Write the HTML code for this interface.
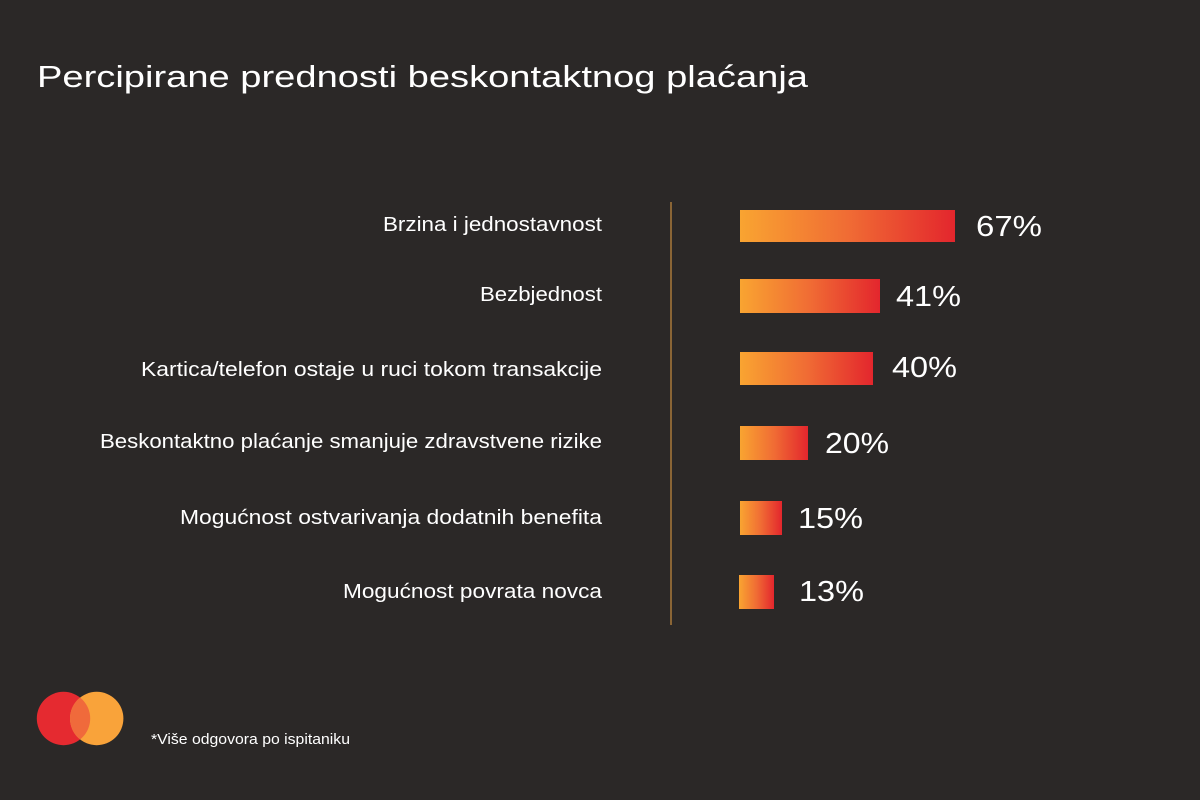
<!DOCTYPE html>
<html>
<head>
<meta charset="utf-8">
<style>
html,body{margin:0;padding:0;background:#2b2827;}
svg{display:block;}
text{font-family:"Liberation Sans",sans-serif;fill:#ffffff;}
</style>
</head>
<body>
<svg width="1200" height="800" viewBox="0 0 1200 800" xmlns="http://www.w3.org/2000/svg">
<defs>
<linearGradient id="g" x1="0" y1="0" x2="1" y2="0">
<stop offset="0" stop-color="#f9a431"/>
<stop offset="0.5" stop-color="#f06c34"/>
<stop offset="1" stop-color="#e3262d"/>
</linearGradient>
</defs>
<rect width="1200" height="800" fill="#2b2827"/>
<text x="37" y="87" font-size="31" textLength="771" lengthAdjust="spacingAndGlyphs">Percipirane prednosti beskontaktnog plaćanja</text>

<line x1="671" y1="202" x2="671" y2="625" stroke="#8a6535" stroke-width="2"/>

<g font-size="20" text-anchor="end">
<text x="602" y="231" textLength="219" lengthAdjust="spacingAndGlyphs">Brzina i jednostavnost</text>
<text x="602" y="301" textLength="122" lengthAdjust="spacingAndGlyphs">Bezbjednost</text>
<text x="602" y="376" textLength="461" lengthAdjust="spacingAndGlyphs">Kartica/telefon ostaje u ruci tokom transakcije</text>
<text x="602" y="448" textLength="502" lengthAdjust="spacingAndGlyphs">Beskontaktno plaćanje smanjuje zdravstvene rizike</text>
<text x="602" y="524" textLength="422" lengthAdjust="spacingAndGlyphs">Mogućnost ostvarivanja dodatnih benefita</text>
<text x="602" y="598" textLength="259" lengthAdjust="spacingAndGlyphs">Mogućnost povrata novca</text>
</g>

<rect x="740" y="210" width="215" height="32" fill="url(#g)"/>
<rect x="740" y="279" width="140" height="34" fill="url(#g)"/>
<rect x="740" y="352" width="133" height="33" fill="url(#g)"/>
<rect x="740" y="426" width="68" height="34" fill="url(#g)"/>
<rect x="740" y="501" width="42" height="34" fill="url(#g)"/>
<rect x="739" y="575" width="35" height="34" fill="url(#g)"/>

<g font-size="29">
<text x="976" y="236" textLength="66" lengthAdjust="spacingAndGlyphs">67%</text>
<text x="896" y="306" textLength="65" lengthAdjust="spacingAndGlyphs">41%</text>
<text x="892" y="377" textLength="65" lengthAdjust="spacingAndGlyphs">40%</text>
<text x="825" y="453" textLength="64" lengthAdjust="spacingAndGlyphs">20%</text>
<text x="798" y="528" textLength="65" lengthAdjust="spacingAndGlyphs">15%</text>
<text x="799" y="601" textLength="65" lengthAdjust="spacingAndGlyphs">13%</text>
</g>

<circle cx="63.5" cy="718.5" r="26.7" fill="#e52a30"/>
<circle cx="96.7" cy="718.5" r="26.7" fill="#f9a33a"/>
<clipPath id="c"><circle cx="63.5" cy="718.5" r="26.7"/></clipPath>
<circle cx="96.7" cy="718.5" r="26.7" fill="#f06a3b" clip-path="url(#c)"/>

<text x="151" y="744" font-size="15" textLength="199" lengthAdjust="spacingAndGlyphs">*Više odgovora po ispitaniku</text>
</svg>
</body>
</html>
